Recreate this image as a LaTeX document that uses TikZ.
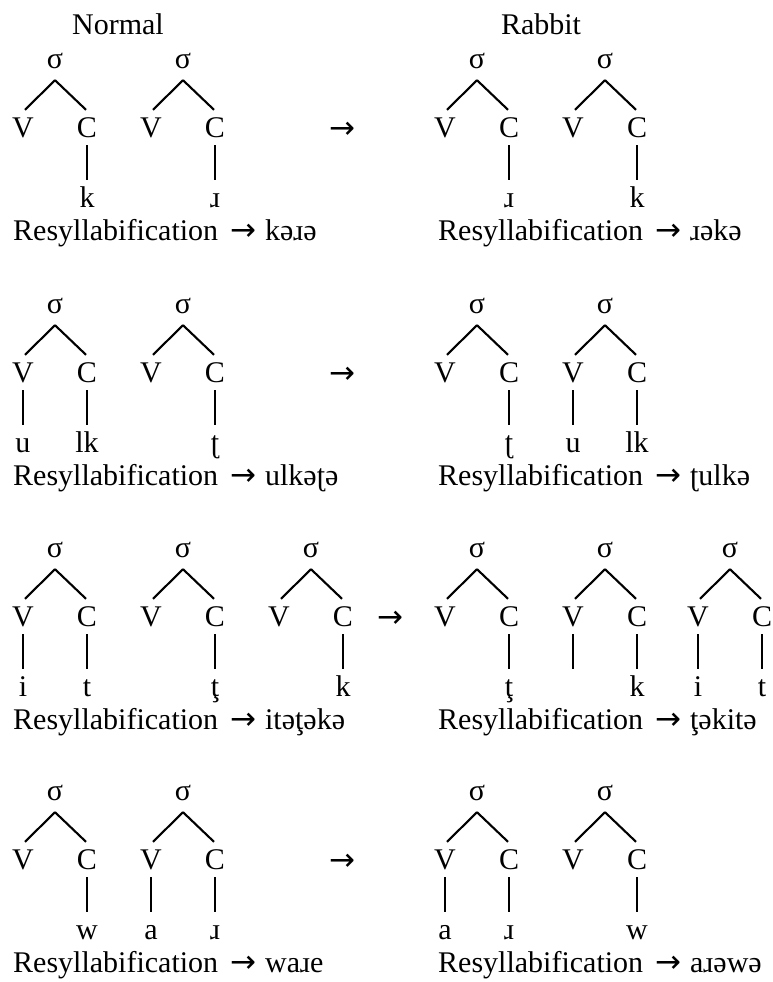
\documentclass[tikz,border=0pt]{standalone}
\usepackage{fontspec}
\setmainfont{Liberation Serif}
\newfontfamily\arrfont{DejaVu Sans}
\tikzset{
  every node/.style={font=\fontsize{30}{36}\selectfont, inner sep=0pt},
  lab/.style={text height=20pt, text depth=0pt, anchor=base},
  edge/.style={line width=2.1pt},
  res/.style={anchor=base west},
}
\newcommand\arr{{\arrfont\fontsize{31}{36}\selectfont →}}
\newcommand\resarr{\hspace{12pt}\arr\hspace{9pt}}
\newcommand\sylltree[7]{%
  \node[lab] (#1s) at (#2,#3+68) {σ};
  \node[lab] (#1v) at (#2-32,#3+137) {V};
  \node[lab] (#1c) at (#2+32,#3+137) {C};
  \draw[edge] ([yshift=-12pt]#1s.south) -- ([xshift=2pt,yshift=7pt]#1v.north);
  \draw[edge] ([yshift=-12pt]#1s.south) -- ([xshift=-1pt,yshift=7pt]#1c.north);
  \ifnum#6=1
    \node[lab] (#1lv) at (#2-32,#3+207) {#4};
    \draw[edge] ([yshift=-8pt]#1v.south) -- ([yshift=7pt]#1lv.north);
  \fi
  \ifnum#7=1
    \node[lab] (#1lc) at (#2+32,#3+207) {#5};
    \draw[edge] ([yshift=-8pt]#1c.south) -- ([yshift=7pt]#1lc.north);
  \fi
}
\begin{document}
\begin{tikzpicture}[x=1pt,y=-1pt]
\useasboundingbox (0,0) rectangle (773,982);
% headers
\node[anchor=base] (hn) at (118,35) {Normal};
\node[anchor=base] (hr) at (541,35) {Rabbit};
% row 1
\sylltree{na}{55}{0}{}{k}{0}{1}
\sylltree{nb}{183}{0}{}{ɹ}{0}{1}
\sylltree{ra}{477}{0}{}{ɹ}{0}{1}
\sylltree{rb}{605}{0}{}{k}{0}{1}
\node[anchor=base] (ar1) at (342,138) {\arr};
\node[res] (t1n) at (13,240) {Resyllabification\resarr kəɹə};
\node[res] (t1r) at (438,240) {Resyllabification\resarr ɹəkə};
% row 2
\sylltree{nc}{55}{245}{u}{lk}{1}{1}
\sylltree{nd}{183}{245}{}{ʈ}{0}{1}
\sylltree{rc}{477}{245}{}{ʈ}{0}{1}
\sylltree{rd}{605}{245}{u}{lk}{1}{1}
\node[anchor=base] (ar2) at (342,383) {\arr};
\node[res] (t2n) at (13,485) {Resyllabification\resarr ulkəʈə};
\node[res] (t2r) at (438,485) {Resyllabification\resarr ʈulkə};
% row 3
\sylltree{ne}{55}{489}{i}{t}{1}{1}
\sylltree{nf}{183}{489}{}{ţ}{0}{1}
\sylltree{ng}{311}{489}{}{k}{0}{1}
\sylltree{re}{477}{489}{}{ţ}{0}{1}
\sylltree{rf}{605}{489}{}{k}{1}{1}
\sylltree{rg}{730}{489}{i}{t}{1}{1}
\node[anchor=base] (ar3) at (390,627) {\arr};
\node[res] (t3n) at (13,729) {Resyllabification\resarr itəţəkə};
\node[res] (t3r) at (438,729) {Resyllabification\resarr ţəkitə};
% row 4
\sylltree{nh}{55}{732}{}{w}{0}{1}
\sylltree{ni}{183}{732}{a}{ɹ}{1}{1}
\sylltree{rh}{477}{732}{a}{ɹ}{1}{1}
\sylltree{ri}{605}{732}{}{w}{0}{1}
\node[anchor=base] (ar4) at (342,870) {\arr};
\node[res] (t4n) at (13,972) {Resyllabification\resarr waɹe};
\node[res] (t4r) at (438,972) {Resyllabification\resarr aɹəwə};
\end{tikzpicture}
\end{document}
